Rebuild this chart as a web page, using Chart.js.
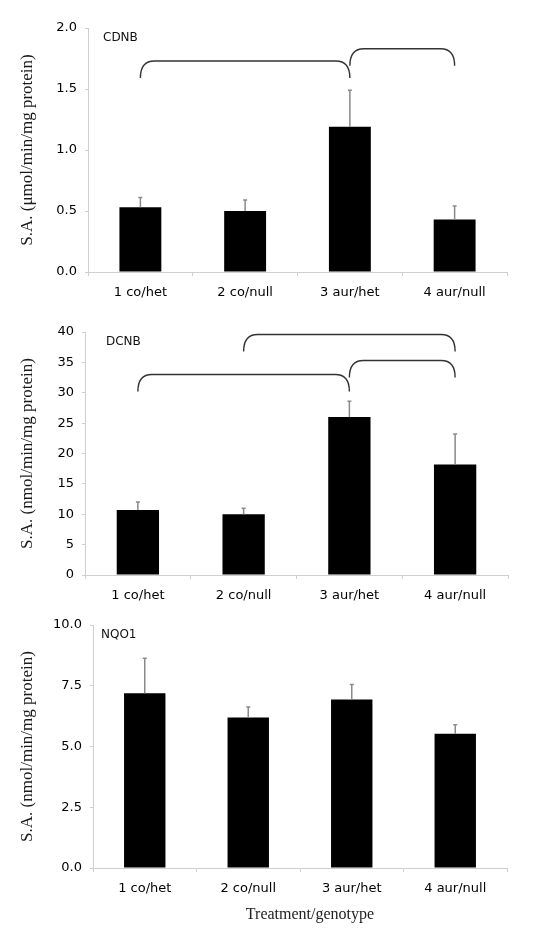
<!DOCTYPE html>
<html>
<head>
<meta charset="utf-8">
<script src="https://cdn.jsdelivr.net/npm/chart.js@4/dist/chart.umd.min.js"></script>
<style>
  html, body { margin: 0; padding: 0; background: #fff; }
  #wrap { position: relative; width: 555px; height: 938px; }
  canvas { position: absolute; left: 0; }
</style>
</head>
<body>
<div id="wrap">
  <canvas id="c-cdnb" width="555" height="300" style="top:0"></canvas>
  <canvas id="c-dcnb" width="555" height="310" style="top:300px"></canvas>
  <canvas id="c-nqo1" width="555" height="338" style="top:600px"></canvas>
</div>
<script>
// data
const categories = ['1 co/het', '2 co/null', '3 aur/het', '4 aur/null'];

const cdnbMeans = [0.53, 0.50, 1.19, 0.43];
const cdnbErr   = [0.08, 0.09, 0.30, 0.11];
const cdnbTicks = [0, 0.5, 1.0, 1.5, 2.0];
// significance brackets: [from category, to category, height]
const cdnbBrackets = [[0, 2, 1.73], [2, 3, 1.83]];

const dcnbMeans = [10.7, 10.0, 26.0, 18.2];
const dcnbErr   = [1.3, 1.0, 2.6, 5.0];
const dcnbTicks = [0, 5, 10, 15, 20, 25, 30, 35, 40];
const dcnbBrackets = [[0, 2, 33.0], [1, 3, 39.6], [2, 3, 35.3]];

const nqo1Means = [7.19, 6.19, 6.93, 5.52];
const nqo1Err   = [1.44, 0.44, 0.62, 0.37];
const nqo1Ticks = [0, 2.5, 5.0, 7.5, 10.0];
const nqo1Brackets = [];

const SANS = '"DejaVu Sans", Verdana, sans-serif';
const SERIF = '"Liberation Serif", "Times New Roman", serif';

// error bars (upper only) drawn from the dataset's err array
const errorBars = {
  id: 'errorBars',
  afterDatasetsDraw(chart) {
    const { ctx, scales: { y } } = chart;
    const ds = chart.data.datasets[0];
    const meta = chart.getDatasetMeta(0);
    ctx.save();
    ctx.strokeStyle = '#8a8a8a';
    ctx.lineWidth = 1.5;
    meta.data.forEach((bar, i) => {
      const top = y.getPixelForValue(ds.data[i] + ds.err[i]);
      ctx.beginPath();
      ctx.moveTo(bar.x, bar.y);
      ctx.lineTo(bar.x, top);
      ctx.moveTo(bar.x - 2, top);
      ctx.lineTo(bar.x + 2, top);
      ctx.stroke();
    });
    ctx.restore();
  },
};

// curly-ended brackets, panel label and x title
const annotations = {
  id: 'annotations',
  afterDraw(chart, args, opts) {
    const { ctx, chartArea, scales: { x, y } } = chart;
    ctx.save();
    ctx.strokeStyle = '#333';
    ctx.lineWidth = 1.4;
    (opts.brackets || []).forEach(([a, b, h]) => {
      const x1 = x.getPixelForValue(a), x2 = x.getPixelForValue(b);
      const yt = y.getPixelForValue(h), ye = yt + 17, r = 14;
      ctx.beginPath();
      ctx.moveTo(x1, ye);
      ctx.quadraticCurveTo(x1, yt, x1 + r, yt);
      ctx.lineTo(x2 - r, yt);
      ctx.quadraticCurveTo(x2, yt, x2, ye);
      ctx.stroke();
    });
    ctx.fillStyle = '#111';
    ctx.font = '12px ' + SANS;
    ctx.textBaseline = 'middle';
    ctx.fillText(opts.label, chartArea.left + opts.labelDx, chartArea.top + 10);
    if (opts.xTitle) {
      ctx.fillStyle = '#222';
      ctx.font = '16px ' + SERIF;
      ctx.textAlign = 'center';
      ctx.fillText(opts.xTitle, (chartArea.left + chartArea.right) / 2 + 10, chartArea.bottom + 47);
    }
    ctx.restore();
  },
};

function makePanel(canvasId, o) {
  const ctx = document.getElementById(canvasId).getContext('2d');
  return new Chart(ctx, {
    type: 'bar',
    data: {
      labels: categories,
      datasets: [{
        data: o.means, err: o.err,
        backgroundColor: '#000', borderWidth: 0,
        barPercentage: 0.4, categoryPercentage: 1,
      }],
    },
    options: {
      responsive: false,
      animation: false,
      devicePixelRatio: 1,
      layout: { padding: { top: o.top, right: o.right, left: 0, bottom: 0 } },
      plugins: {
        legend: { display: false },
        tooltip: { enabled: false },
        annotations: { brackets: o.brackets, label: o.label, labelDx: o.labelDx, xTitle: o.xTitle },
      },
      scales: {
        x: {
          afterFit: (s) => { s.height = o.xh; },
          grid: { drawOnChartArea: false, drawTicks: true, tickLength: 4, color: '#cfcfcf' },
          border: { color: '#cfcfcf' },
          ticks: { color: '#000', font: { family: SANS, size: 13 }, padding: 9 },
        },
        y: {
          min: 0, max: o.ticks[o.ticks.length - 1],
          afterFit: (s) => { s.width = o.left; },
          afterBuildTicks: (s) => { s.ticks = o.ticks.map(v => ({ value: v })); },
          grid: { drawOnChartArea: false, drawTicks: true, tickLength: 3, color: '#cfcfcf' },
          border: { color: '#cfcfcf' },
          ticks: {
            color: '#000', font: { family: SANS, size: 13 }, padding: 8,
            callback: (v) => o.fmt(v),
          },
          title: {
            display: true, text: o.yTitle, color: '#1a1a1a',
            font: { family: SERIF, size: 17 }, padding: { top: 17, bottom: 0 },
          },
        },
      },
    },
    plugins: [errorBars, annotations],
  });
}

makePanel('c-cdnb', {
  means: cdnbMeans, err: cdnbErr, ticks: cdnbTicks, brackets: cdnbBrackets,
  label: 'CDNB', labelDx: 15, fmt: (v) => v.toFixed(1),
  yTitle: 'S.A. (\u03bcmol/min/mg protein)',
  top: 28, right: 48, left: 88, xh: 28,
});

makePanel('c-dcnb', {
  means: dcnbMeans, err: dcnbErr, ticks: dcnbTicks, brackets: dcnbBrackets,
  label: 'DCNB', labelDx: 21, fmt: (v) => String(v),
  yTitle: 'S.A. (nmol/min/mg protein)',
  top: 32, right: 47, left: 85, xh: 35,
});

makePanel('c-nqo1', {
  means: nqo1Means, err: nqo1Err, ticks: nqo1Ticks, brackets: nqo1Brackets,
  label: 'NQO1', labelDx: 8, fmt: (v) => v.toFixed(1),
  yTitle: 'S.A. (nmol/min/mg protein)', xTitle: 'Treatment/genotype',
  top: 25, right: 48, left: 93, xh: 70,
});
</script>
</body>
</html>
